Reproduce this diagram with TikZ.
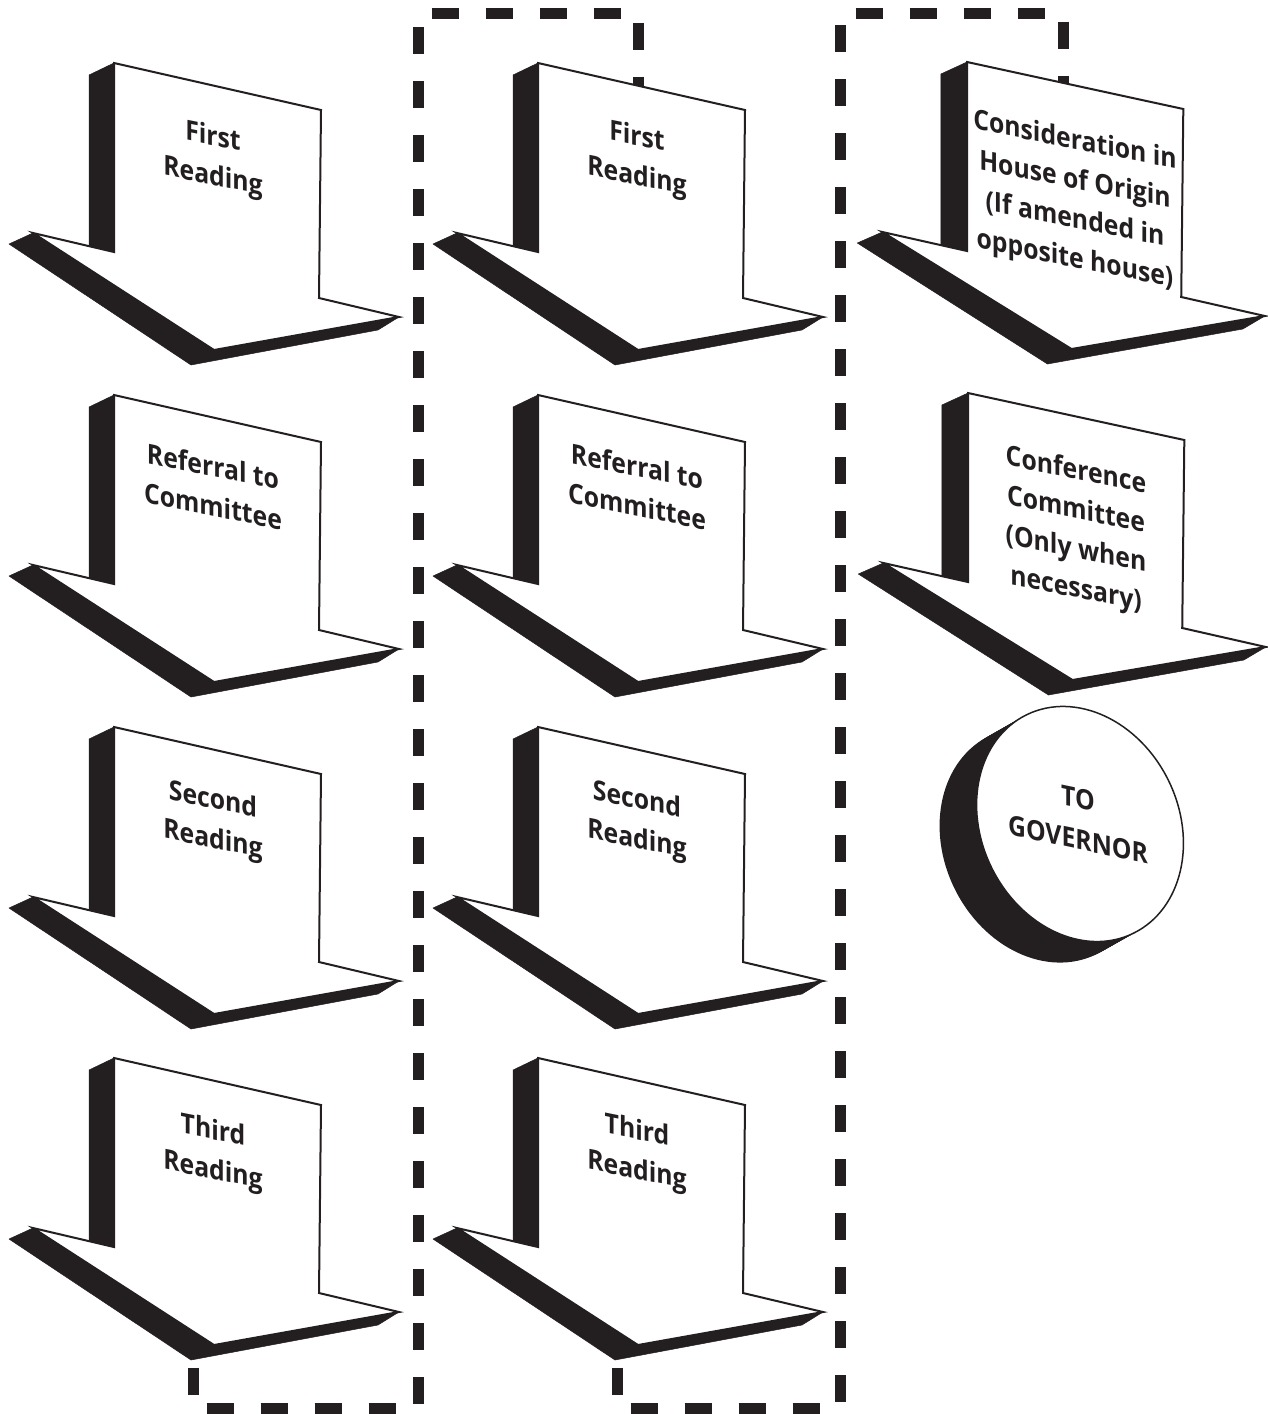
\documentclass[tikz,border=0pt]{standalone}
\usepackage{fontspec}
\newfontfamily\lblfont{Open Sans}[FakeStretch=0.9]
\definecolor{ink}{HTML}{231F20}
\tikzset{
  face/.style={fill=white, draw=ink, line width=2pt, line join=miter},
  shade3d/.style={fill=ink, draw=ink, line width=0.5pt, line join=round},
  fence/.style={draw=ink, line width=11pt, dash pattern=on 27pt off 27pt, dash phase=46.5pt},
  lbl/.style={font=\lblfont\bfseries\fontsize{27.5}{39.5}\selectfont, align=center, inner sep=0pt, yslant=-0.2, text=ink},
}
\newcommand\billarrow[4]{%
  \begin{scope}[shift={(#1,#2)}, xscale=#3]
    \coordinate (#4) at (0,0);
    \path[face] (0,0) -- (207,47) -- (205,235) -- (285,254) -- (100,287) -- (-81,170) -- (0,189) -- cycle;
    \path[shade3d] (-25,12) -- (0,0) -- (0,189) -- (-25,183) -- cycle;
    \path[shade3d] (-81,170) -- (-105,181) -- (77,302) -- (264,267) -- (285,254) -- (100,287) -- cycle;
  \end{scope}}
\begin{document}
\begin{tikzpicture}[x=1pt, y=-1pt]
\useasboundingbox (0,0) rectangle (1268,1414);
% dashed groupings (behind arrows)
\coordinate (fa0) at (193,1360);
\coordinate (fa1) at (193,1408);
\coordinate (fa2) at (418,1408);
\coordinate (fa3) at (418,13);
\coordinate (fa4) at (638,13);
\coordinate (fa5) at (638,90);
\draw[fence] (fa0) -- (fa1) -- (fa2) -- (fa3) -- (fa4) -- (fa5);
\coordinate (fb0) at (617,1360);
\coordinate (fb1) at (617,1408);
\coordinate (fb2) at (840,1408);
\coordinate (fb3) at (840,13);
\coordinate (fb4) at (1063,13);
\coordinate (fb5) at (1063,90);
\draw[fence] (fb0) -- (fb1) -- (fb2) -- (fb3) -- (fb4) -- (fb5);
% column 1
\billarrow{114}{63}{1}{a11}
\billarrow{114}{395}{1}{a12}
\billarrow{114}{727}{1}{a13}
\billarrow{114}{1058}{1}{a14}
% column 2
\billarrow{538}{63}{1}{a21}
\billarrow{538}{395}{1}{a22}
\billarrow{538}{727}{1}{a23}
\billarrow{538}{1058}{1}{a24}
% column 3
\billarrow{967}{62}{1.045}{a31}
\billarrow{968}{393}{1.045}{a32}
% labels
\node[lbl] (t11) at (213,158) {First\\Reading};
\node[lbl] (t12) at (213,486) {Referral to\\Committee};
\node[lbl] (t13) at (213,821) {Second\\Reading};
\node[lbl] (t14) at (213,1152) {Third\\Reading};
\node[lbl] (t21) at (637,158) {First\\Reading};
\node[lbl] (t22) at (637,486) {Referral to\\Committee};
\node[lbl] (t23) at (637,821) {Second\\Reading};
\node[lbl] (t24) at (637,1152) {Third\\Reading};
\node[lbl] (t31) at (1075,201) {Consideration in\\House of Origin\\(If amended in\\opposite house)};
\node[lbl] (t32) at (1076,531) {Conference\\Committee\\(Only when\\necessary)};
% governor disk
\foreach \t in {20,19,...,1}{
  \begin{scope}[shift={(1080-37*\t/20,824+21*\t/20)}, rotate=26]
    \fill[ink] (0,0) circle[x radius=98.6, y radius=121.6];
  \end{scope}}
\begin{scope}[shift={(1080,824)}, rotate=26]
  \path[fill=white, draw=ink, line width=1.5pt] (0,0) circle[x radius=98.6, y radius=121.6];
\end{scope}
\node[lbl, yslant=-0.01, font=\lblfont\bfseries\fontsize{27.5}{41}\selectfont] (gov) at (1078,819) {TO\\GOVERNOR};
\end{tikzpicture}
\end{document}
